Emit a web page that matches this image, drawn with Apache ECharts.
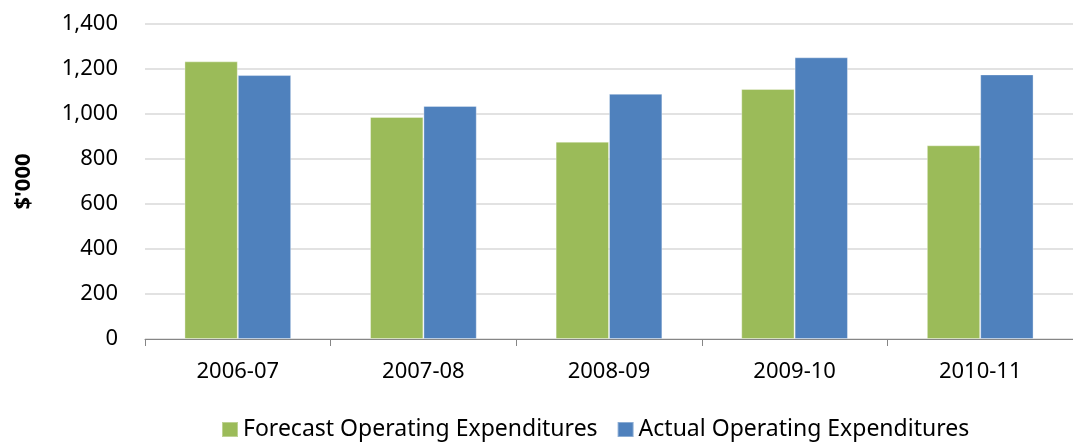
<!DOCTYPE html>
<html>
<head>
<meta charset="utf-8">
<script src="https://cdn.jsdelivr.net/npm/echarts@6/dist/echarts.min.js"></script>
<style>
  html, body { margin: 0; padding: 0; background: #fff; }
  #chart { width: 1073px; height: 442px; }
</style>
</head>
<body>
<div id="chart"></div>
<script>
var years = ['2006-07', '2007-08', '2008-09', '2009-10', '2010-11']
var forecast = [1234, 987, 877, 1111, 861]
var actual = [1173, 1036, 1090, 1252, 1176]
var yTicks = [0, 200, 400, 600, 800, 1000, 1200, 1400]

var font = 'Noto Sans, Open Sans, sans-serif'
var chart = echarts.init(document.getElementById('chart'))

chart.setOption({
  backgroundColor: '#fff',
  animation: false,
  textStyle: { fontFamily: font },
  grid: {
    left: 145,
    top: 24,
    width: 940,
    height: 315
  },
  legend: {
    top: 418,
    left: 221,
    padding: 0,
    icon: 'rect',
    itemWidth: 16,
    itemHeight: 15,
    itemGap: 19,
    textStyle: { fontSize: 23, color: '#000', fontFamily: font },
    data: ['Forecast Operating Expenditures', 'Actual Operating Expenditures']
  },
  xAxis: {
    type: 'category',
    data: years,
    axisLine: { lineStyle: { color: '#868686', width: 1 } },
    axisTick: { show: true, length: 7, lineStyle: { color: '#868686' } },
    axisLabel: { color: '#000', fontSize: 22, margin: 22 }
  },
  yAxis: {
    type: 'value',
    min: yTicks[0],
    max: yTicks[yTicks.length - 1],
    interval: 200,
    name: "$'000",
    nameLocation: 'middle',
    nameGap: 110,
    nameTextStyle: { fontWeight: 'bold', fontSize: 22, color: '#000' },
    axisLine: { show: false },
    axisTick: { show: false },
    axisLabel: {
      color: '#000',
      fontSize: 22,
      margin: 27,
      formatter: function (v) { return v.toLocaleString('en-US') }
    },
    splitLine: { lineStyle: { color: '#d9d9d9', width: 1.5 } }
  },
  series: [{
    name: 'Forecast Operating Expenditures',
    type: 'bar',
    data: forecast,
    barGap: '0%',
    barCategoryGap: '42.5%',
    itemStyle: { color: '#9BBB59', borderColor: 'rgba(255,255,255,0.35)', borderWidth: 1 }
  }, {
    name: 'Actual Operating Expenditures',
    type: 'bar',
    data: actual,
    barGap: '0%',
    barCategoryGap: '42.5%',
    itemStyle: { color: '#4F81BD', borderColor: 'rgba(255,255,255,0.35)', borderWidth: 1 }
  }]
})
</script>
</body>
</html>
